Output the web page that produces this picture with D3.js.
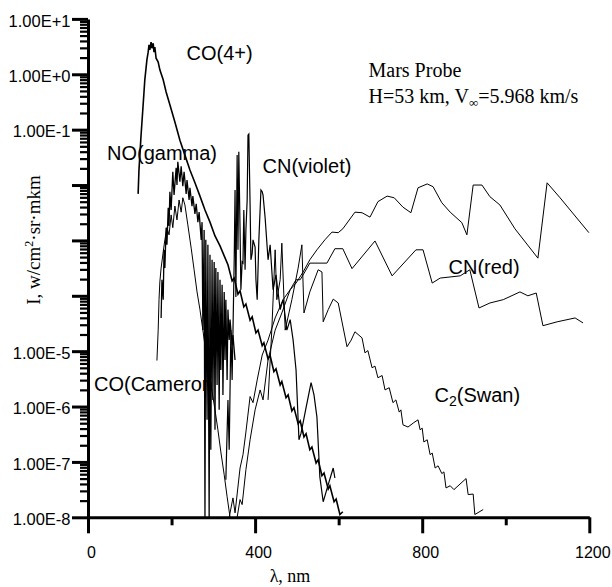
<!DOCTYPE html>
<html>
<head>
<meta charset="utf-8">
<script src="https://cdn.jsdelivr.net/npm/d3@7"></script>
<style>
  body { margin: 0; background: #fff; }
  svg { display: block; }
  .sans { font-family: "Liberation Sans", Arial, sans-serif; }
  .serif { font-family: "Liberation Serif", "Times New Roman", serif; }
</style>
</head>
<body>
<svg id="chart" width="612" height="587"></svg>
<script>
// x axis, wavelength in nm
const lambdaMajor = [0, 400, 800, 1200];
const lambdaMinor = [200, 600, 1000];

// y axis, only some decades carry a label
const labelledDecades = [1e1, 1e0, 1e-1, 1e-5, 1e-6, 1e-7, 1e-8];
const decadeLabels = ["1.00E+1", "1.00E+0", "1.00E-1", "1.00E-5", "1.00E-6", "1.00E-7", "1.00E-8"];

// spectra: [wavelength nm, log10 of intensity]
const coFourPlus = [[120,-2.16],[122,-1.73],[127,-1.10],[132,-0.55],[136,-0.10],[141,0.26],[144,0.40],[146,0.53],[148,0.44],[151,0.58],[153,0.47],[156,0.56],[158,0.40],[160,0.49],[163,0.29],[168,0.22],[172,0.08],[180,-0.10],[187,-0.32],[196,-0.55],[208,-0.86],[220,-1.19],[232,-1.46],[244,-1.73],[256,-1.96],[268,-2.20],[280,-2.45],[292,-2.67],[304,-2.92],[316,-3.10],[326,-3.28],[335,-3.44],[345,-3.73],[350,-3.68],[359,-3.97],[364,-3.91],[373,-4.20],[378,-4.15],[388,-4.44],[393,-4.38],[402,-4.67],[407,-4.62],[417,-4.90],[421,-4.85],[431,-5.14],[436,-5.08],[445,-5.37],[450,-5.32],[460,-5.61],[464,-5.55],[474,-5.84],[479,-5.79],[488,-6.08],[493,-6.02],[503,-6.31],[508,-6.26],[517,-6.55],[522,-6.49],[531,-6.78],[536,-6.73],[546,-7.02],[551,-6.96],[560,-7.25],[565,-7.20],[575,-7.49],[579,-7.43],[589,-7.72],[594,-7.67],[603,-7.95],[610,-7.90]];

const noGamma = [[175,-4.40],[177,-3.71],[180,-4.07],[182,-3.17],[184,-3.50],[187,-2.77],[189,-3.08],[192,-2.41],[194,-2.74],[196,-2.12],[199,-2.45],[203,-1.76],[206,-2.18],[211,-1.69],[213,-2.00],[215,-1.58],[220,-1.94],[223,-1.66],[227,-2.02],[230,-1.76],[235,-2.16],[237,-1.91],[242,-2.27],[244,-2.05],[249,-2.38],[251,-2.20],[256,-2.52],[259,-2.34],[263,-2.67],[266,-2.49],[271,-2.99],[273,-2.67],[275,-4.62],[278,-2.81],[280,-8],[282,-2.99],[285,-6.24],[287,-3.08],[290,-8],[292,-3.26],[294,-6.78],[297,-3.35],[299,-5.88],[302,-3.39],[304,-6.42],[306,-3.50],[309,-5.61],[311,-3.57],[314,-6.06],[316,-3.71],[318,-5.34],[321,-3.80],[323,-5.79],[326,-3.93],[328,-5.16],[330,-4.07],[333,-5.52],[335,-4.25],[338,-4.80],[340,-4.43],[345,-4.89],[347,-4.71],[352,-5.16]];

const coCameron = [[165,-5.17],[168,-4.62],[170,-4.07],[172,-3.75],[175,-3.50],[180,-3.21],[184,-2.99],[189,-2.77],[194,-2.90],[199,-2.54],[203,-2.77],[208,-2.38],[213,-2.63],[218,-2.27],[223,-2.49],[227,-2.23],[232,-2.36],[239,-2.72],[247,-3.14],[254,-3.53],[261,-3.93],[268,-4.25],[275,-4.62],[282,-5.01],[290,-5.37],[297,-5.73],[304,-6.06],[311,-6.42],[318,-6.82],[326,-7.23],[333,-7.63],[340,-8]];

const cnViolet = [[330,-7.32],[335,-5.88],[338,-6.78],[342,-4.62],[345,-5.52],[350,-3.35],[352,-2.09],[354,-4.02],[357,-1.46],[359,-3.17],[361,-1.40],[364,-2.81],[366,-3.89],[369,-3.39],[371,-3.41],[373,-2.45],[376,-3.53],[378,-2.81],[381,-2.27],[383,-1.10],[385,-1.08],[388,-2.36],[390,-3.35],[393,-3.23],[395,-2.99],[400,-3.12],[402,-3.71],[405,-4.07],[409,-2.99],[414,-2.09],[417,-2.12],[419,-2.18],[424,-2.59],[431,-3.35],[436,-3.08],[443,-3.89],[450,-3.62],[460,-4.25],[467,-4.07],[476,-4.62],[484,-4.43],[491,-4.80],[498,-5.34],[505,-6.60],[510,-6.48],[522,-6.02],[534,-5.57],[541,-5.79],[548,-6.19],[555,-7.27],[563,-7.72],[575,-7.41],[587,-7.11],[591,-7.29]];

const cnRedUpper = [[338,-8],[347,-7.65],[352,-7.92],[364,-7.11],[371,-6.87],[378,-6.46],[388,-5.82],[395,-5.93],[405,-5.52],[417,-5.07],[431,-4.80],[448,-4.40],[467,-4.07],[484,-3.89],[498,-3.77],[515,-3.57],[531,-3.35],[548,-3.17],[567,-2.99],[584,-2.85],[599,-2.86],[610,-2.79],[639,-2.49],[656,-2.50],[675,-2.58],[694,-2.30],[716,-2.20],[733,-2.23],[754,-2.40],[773,-2.50],[790,-2.05],[812,-1.98],[826,-2.03],[847,-2.32],[867,-2.49],[895,-2.68],[907,-2.90],[922,-2.00],[943,-2.00],[962,-2.21],[986,-2.36],[1022,-2.79],[1077,-3.32],[1099,-1.96],[1130,-2.23],[1199,-2.86]];

const cnRedLower = [[357,-8],[364,-7.68],[369,-7.77],[378,-7.14],[388,-6.60],[400,-6.06],[412,-5.70],[419,-5.88],[431,-5.16],[448,-4.62],[464,-4.31],[484,-3.89],[498,-3.71],[508,-3.71],[519,-3.57],[531,-3.41],[572,-3.41],[591,-3.15],[610,-3.15],[632,-3.51],[687,-3.01],[728,-3.64],[785,-3.17],[802,-3.17],[824,-3.77],[843,-3.68],[891,-3.64],[914,-3.53],[936,-4.22],[962,-4.13],[994,-4.07],[1034,-3.93],[1053,-4.00],[1073,-3.95],[1089,-4.54],[1123,-4.47],[1166,-4.40],[1185,-4.49]];

const c2Swan = [[431,-5.88],[440,-4.62],[448,-3.17],[452,-4.07],[460,-3.71],[464,-3.05],[472,-4.62],[488,-4.07],[503,-3.50],[512,-3.08],[517,-4.31],[531,-3.93],[551,-3.53],[560,-3.57],[563,-4.47],[575,-4.25],[587,-4.06],[599,-4.13],[620,-4.92],[630,-4.80],[639,-4.65],[656,-4.76],[663,-5.03],[670,-4.99],[680,-5.30],[687,-5.27],[694,-5.48],[704,-5.44],[711,-5.70],[721,-5.66],[730,-5.93],[737,-5.88],[745,-6.10],[749,-6.06],[754,-6.33],[766,-6.37],[780,-6.29],[790,-6.24],[795,-6.42],[800,-6.39],[804,-6.64],[812,-6.60],[819,-6.87],[824,-6.84],[831,-7.11],[838,-7.07],[847,-7.21],[852,-7.18],[857,-7.47],[867,-7.43],[876,-7.50],[905,-7.30],[910,-7.59],[922,-7.58],[926,-7.95],[946,-7.86]];

const svg = d3.select("#chart");

const x = d3.scaleLinear().domain([0, 1200]).range([88, 589.3]);
const y = d3.scaleLog().domain([1e-8, 1e1]).range([517.3, 18.9]);

// curves
const line = d3.line()
  .x(d => x(d[0]))
  .y(d => y(Math.pow(10, d[1])));

const curves = [
  { data: cnRedUpper, w: 1 },
  { data: cnRedLower, w: 1 },
  { data: c2Swan, w: 1 },
  { data: coCameron, w: 1 },
  { data: cnViolet, w: 1.2 },
  { data: noGamma, w: 1.3 },
  { data: coFourPlus, w: 1.6 }
];

svg.append("g")
  .selectAll("path")
  .data(curves)
  .join("path")
    .attr("d", d => line(d.data))
    .attr("fill", "none")
    .attr("stroke", "#000")
    .attr("stroke-width", d => d.w)
    .attr("stroke-linejoin", "miter");

// y axis: minor ticks (2..9 in each decade), then majors with labels
const isDecade = v => Math.abs(Math.log10(v) - Math.round(Math.log10(v))) < 1e-6;
const minorY = y.ticks().filter(v => !isDecade(v));
const majorY = y.ticks().filter(isDecade);

svg.append("g")
  .attr("transform", "translate(88,0)")
  .call(d3.axisLeft(y).tickValues(minorY).tickSize(8).tickFormat(""))
  .call(g => g.select(".domain").remove())
  .call(g => g.selectAll("line").attr("stroke-width", 2.2));

const yAxis = svg.append("g")
  .attr("class", "sans")
  .attr("transform", "translate(88,0)")
  .call(d3.axisLeft(y).tickValues(majorY).tickSize(16).tickSizeOuter(0)
    .tickFormat(v => {
      const i = labelledDecades.findIndex(d => Math.abs(Math.log10(d) - Math.log10(v)) < 1e-6);
      return i < 0 ? "" : decadeLabels[i];
    }));
yAxis.select(".domain").attr("stroke-width", 3);
yAxis.selectAll("line").attr("stroke-width", 3);
yAxis.selectAll("text")
  .attr("x", -17.5)
  .attr("dy", "0.44em")
  .attr("fill", "#000")
  .style("font-size", "16.5px");

// x axis
svg.append("g")
  .attr("transform", "translate(0,517.3)")
  .call(d3.axisBottom(x).tickValues(lambdaMinor).tickSize(8).tickFormat(""))
  .call(g => g.select(".domain").remove())
  .call(g => g.selectAll("line").attr("stroke-width", 3));

const xAxis = svg.append("g")
  .attr("class", "sans")
  .attr("transform", "translate(0,517.3)")
  .call(d3.axisBottom(x).tickValues(lambdaMajor).tickSize(16).tickSizeOuter(0)
    .tickFormat(d3.format("d")));
xAxis.select(".domain").attr("stroke-width", 3);
xAxis.selectAll("line").attr("stroke-width", 3);
xAxis.selectAll("text")
  .attr("y", 41)
  .attr("dy", 0)
  .attr("dx", 3)
  .attr("fill", "#000")
  .style("font-size", "16px");

// axis titles
svg.append("text")
  .attr("class", "serif")
  .attr("x", 290)
  .attr("y", 582)
  .attr("text-anchor", "middle")
  .style("font-size", "18px")
  .text("λ, nm");

const yTitle = svg.append("text")
  .attr("class", "serif")
  .attr("transform", "translate(40,240) rotate(-90)")
  .attr("text-anchor", "middle")
  .style("font-size", "19px");
yTitle.append("tspan").text("I, w/cm");
yTitle.append("tspan").attr("dy", -7).style("font-size", "12px").text("2");
yTitle.append("tspan").attr("dy", 7).text("·sr·mkm");

// band labels
const bandLabels = [
  { t: "CO(4+)", x: 186.5, y: 59.5 },
  { t: "NO(gamma)", x: 107, y: 159.5 },
  { t: "CN(violet)", x: 262.5, y: 172.5 },
  { t: "CN(red)", x: 448.5, y: 274 },
  { t: "CO(Cameron", x: 94, y: 391 }
];
svg.append("g")
  .attr("class", "sans")
  .selectAll("text")
  .data(bandLabels)
  .join("text")
    .attr("x", d => d.x)
    .attr("y", d => d.y)
    .style("font-size", "20px")
    .text(d => d.t);

const swan = svg.append("text")
  .attr("class", "sans")
  .attr("x", 434.5)
  .attr("y", 401.5)
  .style("font-size", "20px");
swan.append("tspan").text("C");
swan.append("tspan").attr("dy", 4).style("font-size", "14px").text("2");
swan.append("tspan").attr("dy", -4).text("(Swan)");

// case caption
svg.append("text")
  .attr("class", "serif")
  .attr("x", 368.5)
  .attr("y", 77)
  .style("font-size", "20px")
  .text("Mars Probe");

const cond = svg.append("text")
  .attr("class", "serif")
  .attr("x", 368.5)
  .attr("y", 102.5)
  .style("font-size", "20px");
cond.append("tspan").text("H=53 km, V");
cond.append("tspan").attr("dy", 4).style("font-size", "13px").text("∞");
cond.append("tspan").attr("dy", -4).text("=5.968 km/s");
</script>
</body>
</html>
